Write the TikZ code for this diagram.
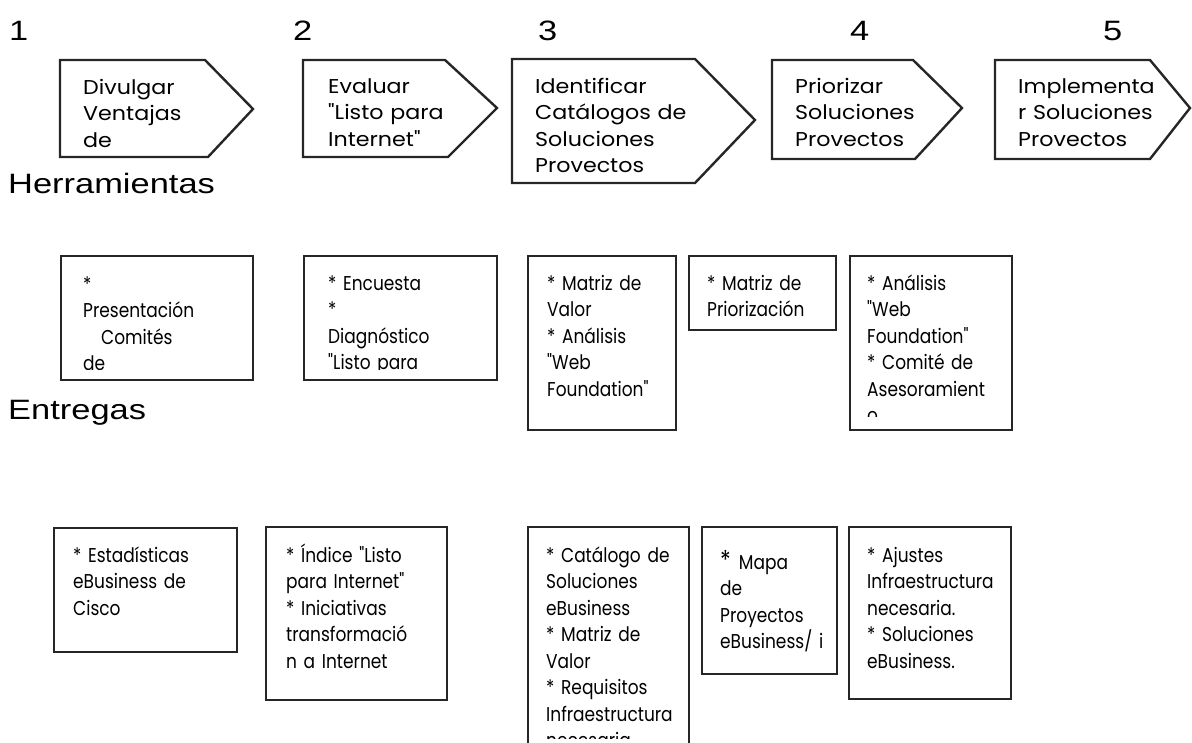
\documentclass[tikz,border=0pt]{standalone}
\usepackage{fontspec}
\setmainfont{Liberation Sans}
\newfontfamily\boxfont[FakeStretch=0.85]{Poppins}
\newfontfamily\topfont[FakeStretch=1.11]{Poppins}
\newfontfamily\labfont[FakeStretch=1.23]{Liberation Sans}
\begin{document}
\begin{tikzpicture}[x=1pt,y=-1pt,
  frame/.style={draw=black!85, line width=2.4pt, line join=miter},
  txt/.style={anchor=base west, inner sep=0pt, text width=240pt, align=left,
    font=\boxfont\fontsize{20}{26.5}\selectfont},
  toptxt/.style={txt, font=\topfont\fontsize{20}{26.5}\selectfont},
  lab/.style={anchor=base west, inner sep=0pt, font=\labfont\fontsize{28}{32}\selectfont}]
\useasboundingbox (0,0) rectangle (1192,742);
\clip (0,0) rectangle (1192,742);

% step numbers
\node[lab] (n1) at (9,40) {1};
\node[lab] (n2) at (293,40) {2};
\node[lab] (n3) at (538,40) {3};
\node[lab] (n4) at (850,40) {4};
\node[lab] (n5) at (1103,40) {5};

% row labels
\node[lab] (herr) at (8,193) {Herramientas};
\node[lab] (entr) at (8,419) {Entregas};

% pentagons
\draw[frame] (60,60) -- (205,60) -- (253,109) -- (208,157) -- (60,157) -- cycle;
\draw[frame] (303,60) -- (445,60) -- (497,108) -- (448,157) -- (303,157) -- cycle;
\draw[frame] (512,59) -- (695,59) -- (755,120) -- (695,183) -- (512,183) -- cycle;
\draw[frame] (772,60) -- (913,60) -- (962,108) -- (915,159) -- (772,159) -- cycle;
\draw[frame] (995,60) -- (1150,60) -- (1190,108) -- (1150,159) -- (995,159) -- cycle;

\begin{scope}
\clip (60,60) rectangle (230,155);
\node[toptxt] (p1) at (83,94) {Divulgar\\Ventajas\\de};
\end{scope}
\begin{scope}
\clip (303,60) rectangle (470,155);
\node[toptxt] (p2) at (328,93) {Evaluar\\"Listo para\\Internet"};
\end{scope}
\begin{scope}
\clip (512,59) rectangle (720,180);
\node[toptxt] (p3) at (535,93) {Identificar\\Catálogos de\\Soluciones\\Provectos};
\end{scope}
\begin{scope}
\clip (772,60) rectangle (940,157);
\node[toptxt] (p4) at (795,93) {Priorizar\\Soluciones\\Provectos};
\end{scope}
\begin{scope}
\clip (995,60) rectangle (1170,157);
\node[toptxt] (p5) at (1018,93) {Implementa\\r Soluciones\\Provectos};
\end{scope}

% Herramientas boxes
\draw[frame] (61,256) rectangle (253,380);
\draw[frame] (304,256) rectangle (497,380);
\draw[frame] (528,256) rectangle (676,430);
\draw[frame] (689,256) rectangle (836,330);
\draw[frame] (850,256) rectangle (1012,430);

\begin{scope}
\clip (61,256) rectangle (253,369);
\node[txt] (m1) at (83,291) {*\\Presentación\\\hspace*{18pt}Comités\\de};
\end{scope}
\begin{scope}
\clip (304,256) rectangle (497,369);
\node[txt] (m2) at (328,290) {* Encuesta\\{}*\\Diagnóstico\\"Listo para};
\end{scope}
\node[txt] (m3) at (547,290) {* Matriz de\\Valor\\{}* Análisis\\"Web\\Foundation"};
\node[txt] (m4) at (707,290) {* Matriz de\\Priorización};
\begin{scope}
\clip (850,256) rectangle (1012,416);
\node[txt] (m5) at (867,290) {* Análisis\\"Web\\Foundation"\\{}* Comité de\\Asesoramient\\o};
\end{scope}

% Entregas boxes
\draw[frame] (54,528) rectangle (237,652);
\draw[frame] (266,527) rectangle (447,700);
\draw[frame] (528,760) -- (528,527) -- (689,527) -- (689,760);
\draw[frame] (702,527) rectangle (837,674);
\draw[frame] (849,527) rectangle (1011,699);

\node[txt] (b1) at (73,562) {* Estadísticas\\eBusiness de\\Cisco};
\node[txt] (b2) at (286,562) {* Índice "Listo\\para Internet"\\{}* Iniciativas\\transformació\\n a Internet};
\begin{scope}
\clip (528,527) rectangle (689,738);
\node[txt] (b3) at (546,562) {* Catálogo de\\Soluciones\\eBusiness\\{}* Matriz de\\Valor\\{}* Requisitos\\Infraestructura\\necesaria};
\end{scope}
\node[txt] (b4) at (720,569) {{\fontsize{26}{26}\selectfont*}\hspace{8pt}Mapa\\de\\Proyectos\\eBusiness/ i};
\node[txt] (b5) at (867,562) {* Ajustes\\Infraestructura\\necesaria.\\{}* Soluciones\\eBusiness.};
\end{tikzpicture}
\end{document}
